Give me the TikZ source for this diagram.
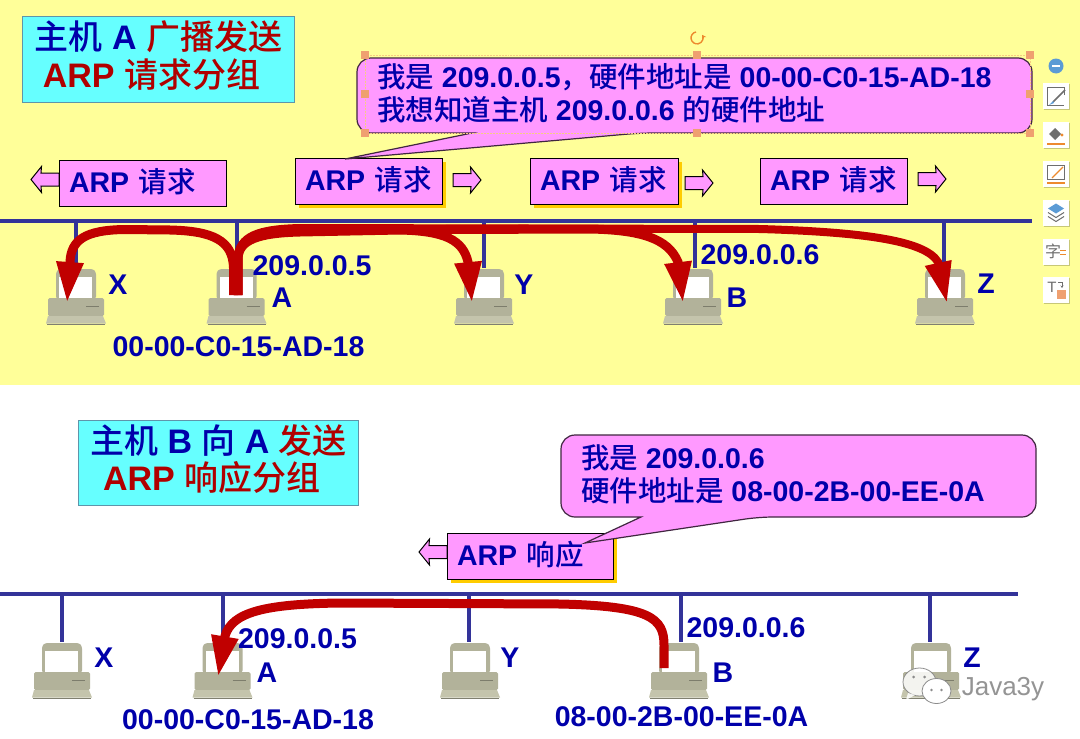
\documentclass[tikz,border=0pt]{standalone}
\usepackage{fontspec}
\setmainfont{Liberation Sans}
\newfontfamily\cjkf{Noto Sans CJK SC}[BoldFont={Noto Sans CJK SC Medium}]
\newcommand\Zh[1]{{\cjkf #1}}
\usetikzlibrary{arrows.meta,shadows,calc}
\definecolor{bgyellow}{HTML}{FFFF99}
\definecolor{titlecyan}{HTML}{66FFFF}
\definecolor{titleedge}{HTML}{5F95AA}
\definecolor{boxpink}{HTML}{FF99FF}
\definecolor{txtblue}{HTML}{0000AA}
\definecolor{txtred}{HTML}{B00000}
\definecolor{busblue}{HTML}{333399}
\definecolor{arrowred}{HTML}{C00000}
\definecolor{goldshadow}{HTML}{FFCC00}
\definecolor{pcbody}{HTML}{B2B29A}
\definecolor{pcbase}{HTML}{C4C4AC}
\definecolor{handle}{HTML}{EFA070}
\definecolor{toolorange}{HTML}{ED8A2E}
\definecolor{toolblue}{HTML}{5B9BD5}
\definecolor{toolgray}{HTML}{6E6E6E}
\tikzset{
  x=1pt,y=-1pt,
  every node/.style={font=\bfseries,inner sep=0pt,outer sep=0pt},
  titlebox/.style={draw=titleedge,fill=titlecyan,line width=1pt},
  titletext/.style={align=left,font=\fontsize{34}{38}\selectfont\bfseries},
  arpbox/.style={draw=black,fill=boxpink,line width=1pt,anchor=north west,align=left,
    inner xsep=10pt,text width=#1,minimum height=46pt,text=txtblue,
    text height=24pt,text depth=6pt,
    font=\fontsize{28.5}{32}\selectfont\bfseries},
  goldback/.style={general shadow={fill=goldshadow,shadow xshift=3.5pt,shadow yshift=-3.5pt}},
  flowshape/.style={draw=black,fill=boxpink,line width=1pt,line join=miter},
  flowr/.pic={\draw[flowshape] (-14,-6.5) -- (4,-6.5) -- (3.5,-13) -- (14,0) -- (3.5,13) -- (4,6.5) -- (-14,6.5) -- cycle;},
  flowl/.pic={\draw[flowshape] (14,-6.5) -- (-4,-6.5) -- (-3.5,-13) -- (-14,0) -- (-3.5,13) -- (-4,6.5) -- (14,6.5) -- cycle;},
  callout/.style={draw=black!75!boxpink,fill=boxpink,line width=1.2pt},
  callouttext/.style={anchor=west,align=left,text=txtblue,
    font=\fontsize{28.5}{33}\selectfont\bfseries},
  lbl/.style={text=txtblue,font=\fontsize{28.5}{32}\selectfont\bfseries},
  busline/.style={draw=busblue,line width=4pt},
  stubline/.style={draw=busblue,line width=3.2pt},
  pcanchor/.style={minimum width=58pt,minimum height=57pt,anchor=north},
  redline/.style={draw=arrowred,line width=#1},
  redflow/.style={draw=arrowred,line width=#1,-{Triangle[length=41pt,width=25pt]}},
  handlebox/.style={fill=handle,minimum size=8pt},
  toolbtn/.style={fill=white,minimum size=26pt,
    general shadow={fill=black!22!bgyellow,shadow xshift=1.2pt,shadow yshift=-1.2pt}},
  pc/.pic={
    \fill[pcbody,rounded corners=2.5pt] (-20,31) -- (-20,4) -- (-17,1) -- (17,1) -- (20,4) -- (20,31) -- cycle;
    \fill[white] (-17,9) rectangle (16,30);
    \fill[pcbody,rounded corners=1.5pt] (-28,30) rectangle (28,48);
    \draw[black!30!pcbody,line width=.8pt] (10,38) -- (23,38);
    \fill[pcbase] (-28,48) -- (27,48) -- (30,55.5) -- (-30,55.5) -- cycle;
    \draw[black!35!pcbase,line width=1pt] (-29,56) -- (29,56);
  },
}
\newcommand\pcnode[3]{\node[pcanchor] (#1) at (#2,#3) {}; \pic at (#2,#3) {pc};}
\begin{document}
\begin{tikzpicture}
\useasboundingbox (0,0) rectangle (1080,739);
\fill[white] (0,0) rectangle (1080,739);
\fill[bgyellow] (0,0) rectangle (1080,385);

% ---------- upper panel ----------
\node[titlebox,minimum width=272pt,minimum height=86pt] (t1) at (158,59) {};
\node[titletext] (t1t) at (158.5,56)
  {\textcolor{txtblue}{\Zh{主机} A} \textcolor{txtred}{\Zh{广播发送}}\\
   \hspace*{8pt}\textcolor{txtred}{ARP \Zh{请求分组}}};

\pic (ra1) at (45,179.5) {flowl};
\pic (ra2) at (467,180) {flowr};
\pic (ra3) at (699,183) {flowr};
\pic (ra4) at (932,179) {flowr};
\node[arpbox=147pt] (r1) at (59,160) {ARP \Zh{请求}};
\node[arpbox=127pt,goldback] (r2) at (295,158) {ARP \Zh{请求}};
\node[arpbox=128pt,goldback] (r3) at (530,158) {ARP \Zh{请求}};
\node[arpbox=127pt] (r4) at (760,158) {ARP \Zh{请求}};

\draw[callout,rounded corners=14pt] (357,95) |- (1032,58) |- (640,133)
  [sharp corners] -- (345,159) -- (472,133) [rounded corners=14pt] -| (357,95) -- cycle;
\coordinate (c1) at (377,93);
\node[callouttext] (c1t) at (c1)
  {\Zh{我是} 209.0.0.5\Zh{，硬件地址是} 00-00-C0-15-AD-18\\
   \Zh{我想知道主机} 209.0.0.6 \Zh{的硬件地址}};

\coordinate (bus1L) at (0,221);
\coordinate (bus1R) at (1032,221);
\draw[busline] (bus1L) -- (bus1R);
\pcnode{X1}{76}{268}
\pcnode{A1}{236.5}{268}
\pcnode{Y1}{484}{268}
\pcnode{B1}{693}{268}
\pcnode{Z1}{945}{268}
\coordinate (sx1) at (76,221);
\coordinate (sa1) at (237,221);
\coordinate (sy1) at (484,221);
\coordinate (sb1) at (695,221);
\coordinate (sz1) at (944,221);
\foreach \s/\p in {sx1/X1,sa1/A1,sy1/Y1,sb1/B1,sz1/Z1}
  \draw[stubline] (\s) -- (\s |- \p.north);

\coordinate (srcL) at (233.5,295);
\coordinate (srcR) at (238,295);
\coordinate (tipX) at (67,303);
\coordinate (tipY) at (472,303);
\coordinate (tipB) at (683,303);
\coordinate (tipZ) at (947,303);
\draw[redflow=9pt] (srcL) -- (233.5,268) .. controls (233,240) and (212,231) .. (170,230) -- (125,229.5)
  .. controls (85,230) and (71,240) .. (70,262) -- (tipX);
\draw[redflow=9pt] (srcR) -- (238,258) .. controls (239,240) and (258,233) .. (300,232) -- (400,230)
  .. controls (445,231) and (463,240) .. (468,262) -- (tipY);
\draw[redflow=9pt] (srcR) -- (238,258) .. controls (239,238) and (258,231) .. (300,230) -- (590,229)
  .. controls (640,230) and (668,238) .. (678,262) -- (tipB);
\draw[redflow=8pt] (srcR) -- (238,258) .. controls (239,236) and (258,229) .. (300,228) -- (760,229)
  .. controls (860,232) and (925,240) .. (938,262) -- (tipZ);

\node[lbl] (lx1) at (118,285) {X};
\node[lbl] (la1) at (282,298) {A};
\node[lbl] (ly1) at (524,285) {Y};
\node[lbl] (lb1) at (737,298) {B};
\node[lbl] (lz1) at (986,284) {Z};
\node[lbl] (ipa1) at (312,266) {209.0.0.5};
\node[lbl] (ipb1) at (760,255) {209.0.0.6};
\node[lbl] (mac1) at (238.5,347) {00-00-C0-15-AD-18};

% selection frame and handles
\draw[handle!55!bgyellow,line width=.5pt,densely dotted] (365,55) rectangle (1030,133);
\foreach \n/\hx/\hy in {h1/365/55,h2/697/55,h3/1030/55,h4/365/94,h5/1030/94,h6/365/133,h7/697/133,h8/1030/133}
  \node[handlebox] (\n) at (\hx,\hy) {};
\coordinate (rot) at (697,38);
\draw[toolorange,line width=1.4pt,-{Stealth[length=4pt,width=5pt]}] ($(rot)+(-1,-6)$)
  arc[start angle=100,end angle=390,radius=6pt];

% tool panel
\node[circle,fill=toolblue,minimum size=15pt] (mn) at (1056,66) {};
\draw[white,line width=1.6pt] ($(mn)+(-4,0)$) -- ($(mn)+(4,0)$);
\foreach \n/\by in {b1/96,b2/135,b3/174,b4/212.5,b5/251.5,b6/290}
  \node[toolbtn] (\n) at (1056,\by) {};
% edit-shape icon
\draw[toolgray,line width=1pt] ($(b1)+(8,-1)$) |- ($(b1)+(-9,-9)$) |- ($(b1)+(8,9)$);
\draw[toolgray,line width=1.6pt] ($(b1)+(9,-6)$) -- ($(b1)+(-3,6)$);
\fill[toolblue] ($(b1)+(-3,5)$) -- ($(b1)+(-2,7)$) -- ($(b1)+(-7,9)$) -- cycle;
% fill icon
\fill[toolgray] ($(b2)+(-7,-1)$) -- ($(b2)+(-1,-7)$) -- ($(b2)+(5,-1)$) -- ($(b2)+(-1,5)$) -- cycle;
\fill[toolorange] ($(b2)+(6,0)$) circle (1.6pt);
\draw[toolorange,line width=1.4pt] ($(b2)+(-9,9)$) -- ($(b2)+(9,9)$);
% line icon
\draw[toolgray,line width=1pt] ($(b3)+(-9,5)$) |- ($(b3)+(8,-9)$) -- ($(b3)+(8,5)$) -- cycle;
\draw[toolorange,line width=1.1pt] ($(b3)+(-4,4)$) -- ($(b3)+(7,-7)$);
\draw[toolorange,line width=1.4pt] ($(b3)+(-9,9)$) -- ($(b3)+(9,9)$);
% layers icon
\fill[toolblue] ($(b4)+(-8,-4)$) -- ($(b4)+(0,-9)$) -- ($(b4)+(8,-4)$) -- ($(b4)+(0,1)$) -- cycle;
\draw[toolgray,line width=1pt] ($(b4)+(-8,0)$) -- ($(b4)+(0,5)$) -- ($(b4)+(8,0)$);
\draw[toolgray,line width=1pt] ($(b4)+(-8,4)$) -- ($(b4)+(0,9)$) -- ($(b4)+(8,4)$);
% text-swap icon
\node[text=toolgray,font=\fontsize{16}{16}\selectfont\cjkf\mdseries] (zi) at ($(b5)+(-3,0)$) {字};
\draw[toolorange,line width=.8pt] ($(b5)+(4,-1)$) -- ($(b5)+(10,-1)$);
\draw[toolorange,line width=.8pt] ($(b5)+(4,3)$) -- ($(b5)+(10,3)$);
% text-box icon
\node[text=toolgray,font=\fontsize{15}{15}\selectfont] (tt) at ($(b6)+(-4,-3)$) {T};
\fill[handle] ($(b6)+(1,0)$) rectangle ($(b6)+(10,9)$);
\draw[toolgray,line width=.8pt,-{Stealth[length=2.5pt,width=3pt]}] ($(b6)+(2,-8)$) -- ($(b6)+(6,-8)$) -- ($(b6)+(6,-2)$);

% ---------- lower panel ----------
\node[titlebox,minimum width=280pt,minimum height=85pt] (t2) at (218,462.5) {};
\node[titletext] (t2t) at (218.5,459.5)
  {\textcolor{txtblue}{\Zh{主机} B \Zh{向} A} \textcolor{txtred}{\Zh{发送}}\\[-1pt]
   \hspace*{13pt}\textcolor{txtred}{ARP \Zh{响应分组}}};

\pic (pa1) at (433,552) {flowl};
\node[arpbox=146pt,goldback] (p1) at (447,533) {ARP \Zh{响应}};

\draw[callout,rounded corners=14pt] (561,476) |- (1036,435) |- (759,517)
  [sharp corners] -- (585,543) -- (641,517) [rounded corners=14pt] -| (561,476) -- cycle;
\coordinate (c2) at (581,474);
\node[callouttext] (c2t) at (c2)
  {\Zh{我是} 209.0.0.6\\ \Zh{硬件地址是} 08-00-2B-00-EE-0A};

\coordinate (bus2L) at (0,594);
\coordinate (bus2R) at (1018,594);
\draw[busline] (bus2L) -- (bus2R);
\pcnode{X2}{62}{642}
\pcnode{A2}{222.5}{642}
\pcnode{Y2}{470}{642}
\pcnode{B2}{679}{642}
\pcnode{Z2}{931}{642}
\coordinate (sx2) at (62,594);
\coordinate (sa2) at (223,594);
\coordinate (sy2) at (469,594);
\coordinate (sb2) at (681,594);
\coordinate (sz2) at (930,594);
\foreach \s/\p in {sx2/X2,sa2/A2,sy2/Y2,sb2/B2,sz2/Z2}
  \draw[stubline] (\s) -- (\s |- \p.north);

\coordinate (src2) at (664,668);
\coordinate (tipA) at (218,677);
\draw[redflow=9pt] (src2) -- (664,645) .. controls (664,618) and (650,606) .. (560,604) -- (340,603)
  .. controls (265,604) and (232,612) .. (225,636) -- (tipA);

\node[lbl] (lx2) at (104,658) {X};
\node[lbl] (la2) at (267,673) {A};
\node[lbl] (ly2) at (510,658) {Y};
\node[lbl] (lb2) at (723,673) {B};
\node[lbl] (lz2) at (972,658) {Z};
\node[lbl] (ipa2) at (297.5,639) {209.0.0.5};
\node[lbl] (ipb2) at (746,628) {209.0.0.6};
\node[lbl] (mac2) at (248,720) {00-00-C0-15-AD-18};
\node[lbl] (mac3) at (681.5,717) {08-00-2B-00-EE-0A};

% watermark
\coordinate (wm1) at (919.5,682);
\coordinate (wm2) at (936.5,691);
\draw[black!45,line width=.8pt,fill=white,fill opacity=.85] (wm1) ellipse [x radius=16.5pt,y radius=14pt];
\fill[white,fill opacity=.85] (908,693) -- (906,700) -- (915,695) -- cycle;
\draw[black!45,line width=.8pt,fill=white] (wm2) ellipse [x radius=14.5pt,y radius=12.5pt];
\fill[black!45] ($(wm1)+(-6,-5)$) circle (1.5pt) ($(wm1)+(5,-5)$) circle (1.5pt);
\fill[black!45] ($(wm2)+(-5,-1)$) circle (1.3pt) ($(wm2)+(5,-1)$) circle (1.3pt);
\node[text=black!42,font=\fontsize{26}{28}\selectfont\mdseries] (wmt) at (1003,689) {Java3y};
\end{tikzpicture}
\end{document}
